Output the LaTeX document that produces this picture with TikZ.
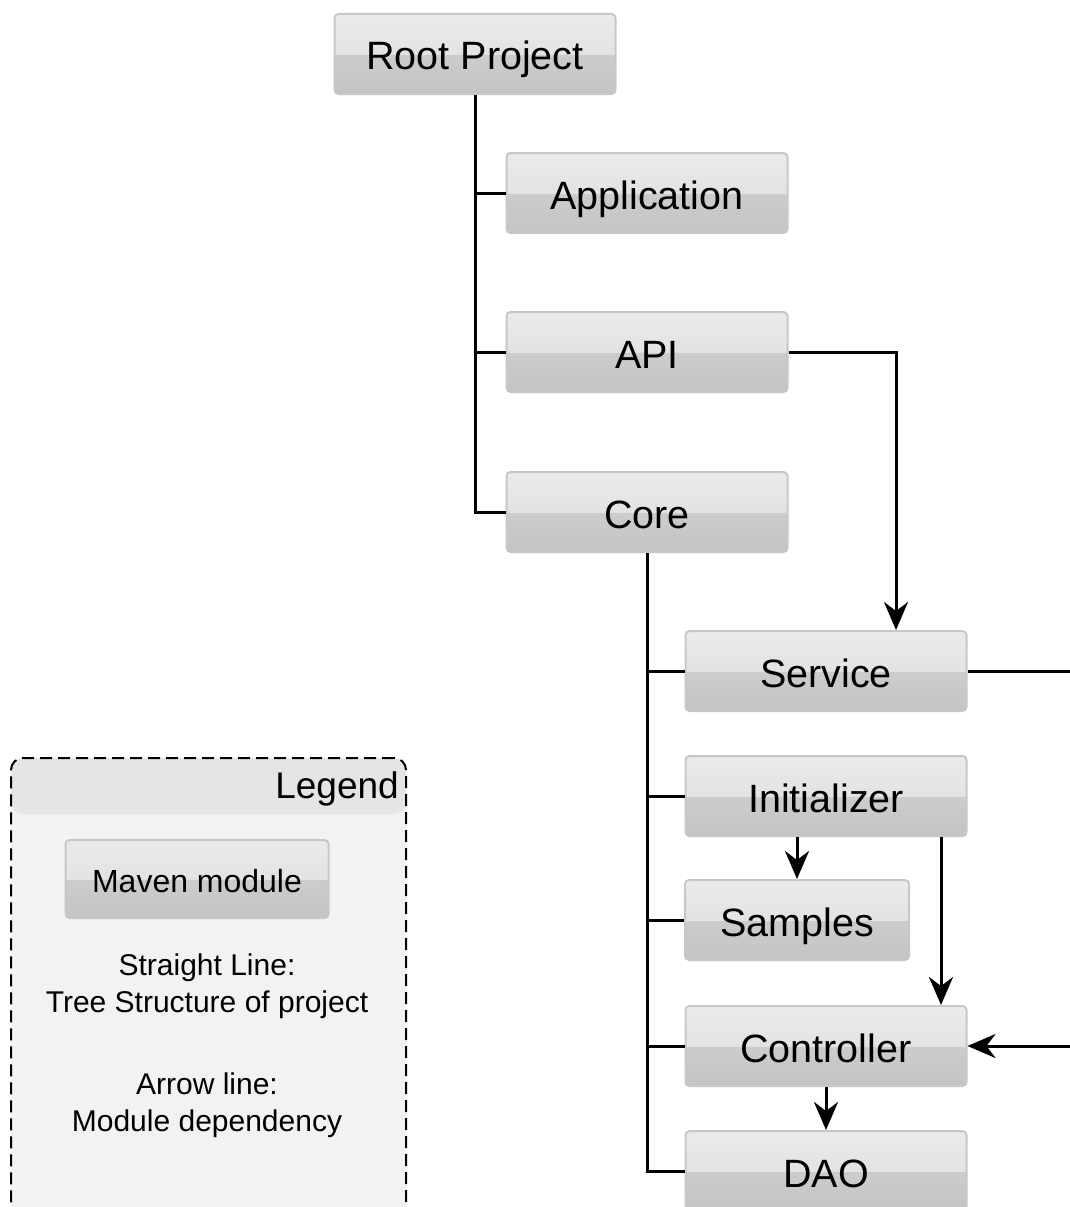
\documentclass[tikz,border=0pt]{standalone}
\usepackage{fontspec}
\setmainfont{Liberation Sans}
\usetikzlibrary{arrows.meta}

% glossy grey look of a module box (top half light, bottom half darker)
\pgfdeclareverticalshading{moduleshade}{100bp}{color(0bp)=(black!23); color(25bp)=(black!23); color(49.5bp)=(black!20); color(50bp)=(black!11); color(75bp)=(black!8); color(100bp)=(black!8)}

\begin{document}
\begin{tikzpicture}[x=1pt, y=-1pt,
    module/.style={draw=black!22, line width=2pt, rounded corners=4pt, shading=moduleshade,
        minimum width=281pt, minimum height=80pt, inner sep=0pt, text height=32pt, text depth=0pt,
        font=\fontsize{39.5}{47}\selectfont},
    tree/.style={line width=3pt},
    dep/.style={line width=3pt, -{Stealth[length=28pt, width=24pt, inset=9pt]}},
    legendbox/.style={draw, dashed, dash pattern=on 12pt off 6pt, line width=2pt, rounded corners=12pt,
        fill=black!5, inner sep=0pt},
    legendtext/.style={align=center, inner sep=0pt, font=\fontsize{30}{37}\selectfont}]

    % Page frame: the picture is cut at the right and bottom edges
    \useasboundingbox (0,0) rectangle (1070,1207);
    \clip (0,0) rectangle (1070,1207);

    % Top level of the project
    \node[module] (root) at (475,54) {Root Project};
    \node[module] (app) at (647,193) {Application};
    \node[module] (api) at (647,352) {API};
    \node[module] (core) at (647,512) {Core};

    % Modules inside Core
    \node[module] (service) at (826,671) {Service};
    \node[module] (init) at (826,796) {Initializer};
    \node[module, minimum width=224pt] (samples) at (797,920) {Samples};
    \node[module] (ctrl) at (826,1046) {Controller};
    \node[module] (dao) at (826,1171) {DAO};

    % Free ends that leave the picture on the right
    \coordinate (serviceout) at (1070,671);
    \coordinate (ctrlin) at (1070,1046);

    % Straight lines: tree structure
    \draw[tree] (root.south) |- (app.west);
    \draw[tree] (root.south) |- (api.west);
    \draw[tree] (root.south) |- (core.west);
    \draw[tree] (core.south) |- (service.west);
    \draw[tree] (core.south) |- (init.west);
    \draw[tree] (core.south) |- (samples.west);
    \draw[tree] (core.south) |- (ctrl.west);
    \draw[tree] (core.south) |- (dao.west);

    % Arrow lines: module dependencies
    \draw[dep] (api.east) -| ([xshift=70pt]service.north);
    \draw[tree] (service.east) -- (serviceout);
    \draw[dep] (init.south -| samples.north) -- (samples.north);
    \draw[dep] ([xshift=115pt]init.south) -- ([xshift=115pt]ctrl.north);
    \draw[dep] (ctrlin) -- (ctrl.east);
    \draw[dep] (ctrl.south) -- (dao.north);

    % Legend box with its grey header band
    \node[legendbox, anchor=north west, minimum width=395pt, minimum height=480pt,
        path picture={\fill[black!10] (path picture bounding box.north west) rectangle
            ([yshift=-56pt]path picture bounding box.north east);}] (legend) at (10,757) {};
    \node[anchor=east, inner sep=0pt, font=\fontsize{37}{44}\selectfont] (legendtitle)
        at ([xshift=-8pt, yshift=-32pt]legend.north east) {Legend};
    \node[module, minimum width=263pt, minimum height=78pt, text height=26pt, font=\fontsize{32}{38}\selectfont]
        (maven) at (197,879) {Maven module};
    \node[legendtext] (straight) at (207,986) {Straight Line:\\Tree Structure of project};
    \node[legendtext] (arrowline) at (207,1105) {Arrow line:\\Module dependency};

\end{tikzpicture}
\end{document}
